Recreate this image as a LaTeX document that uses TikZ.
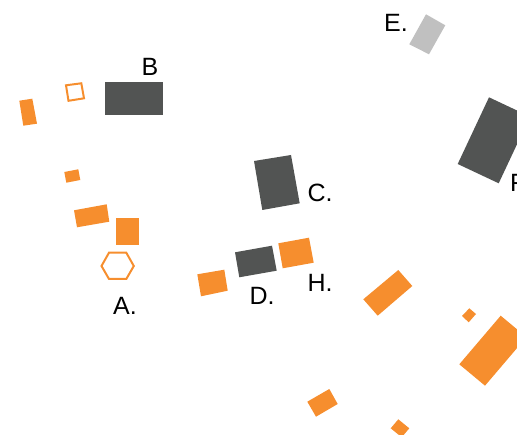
\documentclass[tikz,border=0pt]{standalone}
\usepackage{fontspec}
\setmainfont{Liberation Sans}
\definecolor{org}{HTML}{F68E2E}
\definecolor{drk}{HTML}{525453}
\definecolor{lgr}{HTML}{C0C0C0}
\tikzset{
  ofill/.style={fill=org,draw=none},
  dfill/.style={fill=drk,draw=none},
  gfill/.style={fill=lgr,draw=none},
  oline/.style={draw=org,line width=2pt,fill=none},
  lbl/.style={font=\fontsize{25}{29}\selectfont,text=black,inner sep=0pt}
}
\begin{document}
\begin{tikzpicture}[x=1pt,y=-1pt]
\useasboundingbox (0,0) rectangle (517,435);
\clip (0,0) rectangle (517,435);
% orange filled shapes
\fill[ofill] (19.3,100.7) -- (32.3,98.7) -- (37,123.7) -- (23.3,125.7) -- cycle;
\fill[ofill] (64.3,172) -- (78.3,169.3) -- (80.3,180) -- (66.3,182.7) -- cycle;
\fill[ofill] (74,210.3) -- (106.7,204.3) -- (109.3,221.7) -- (77,227.3) -- cycle;
\fill[ofill] (116,218) rectangle (138.7,244.7);
\fill[ofill] (197.3,274.3) -- (224.3,269.7) -- (227.7,290.7) -- (201,296.3) -- cycle;
\fill[ofill] (278.3,243.3) -- (309,237.7) -- (313.7,262.7) -- (282.7,268.3) -- cycle;
\fill[ofill] (363.3,299.3) -- (398.3,270) -- (412.3,286) -- (377.7,315.7) -- cycle;
\fill[ofill] (462,316) -- (469.3,308.3) -- (476,314) -- (468.7,322.3) -- cycle;
\fill[ofill] (459.3,364.3) -- (500.7,315.7) -- (526.4,337.1) -- (485,385.7) -- cycle;
\fill[ofill] (307.3,401.7) -- (329.3,389) -- (337.7,404) -- (316,416.7) -- cycle;
\fill[ofill] (390.7,428.3) -- (398.3,419.3) -- (409.3,428.3) -- (401.7,437.3) -- cycle;
% orange outlines
\draw[oline] (66,85.3) -- (81.3,83.3) -- (84,98.3) -- (68.5,100.8) -- cycle;
\draw[oline] (101.5,266) -- (109,252.7) -- (126.3,252.7) -- (133.8,266) -- (126.3,279) -- (109,279) -- cycle;
% dark shapes
\fill[dfill] (105,82) rectangle (162.7,114.7);
\fill[dfill] (254,161) -- (291,155) -- (299.7,203.3) -- (262.3,210) -- cycle;
\fill[dfill] (235,252.3) -- (272,245.7) -- (276.7,270.7) -- (239.3,277.3) -- cycle;
\fill[dfill] (457.7,164) -- (489,97.3) -- (530,116.6) -- (498.7,183.3) -- cycle;
% light gray
\fill[gfill] (409.3,44.3) -- (426,14.3) -- (445.3,25.3) -- (429,54.3) -- cycle;
% labels
\node[lbl] (lA) at (125,306) {A.};
\node[lbl] (lB) at (150,67) {B};
\node[lbl] (lC) at (320,193) {C.};
\node[lbl] (lD) at (262,296) {D.};
\node[lbl] (lE) at (396,23) {E.};
\node[lbl,anchor=west] (lF) at (510,183) {F.};
\node[lbl] (lH) at (320,283) {H.};
\end{tikzpicture}
\end{document}
